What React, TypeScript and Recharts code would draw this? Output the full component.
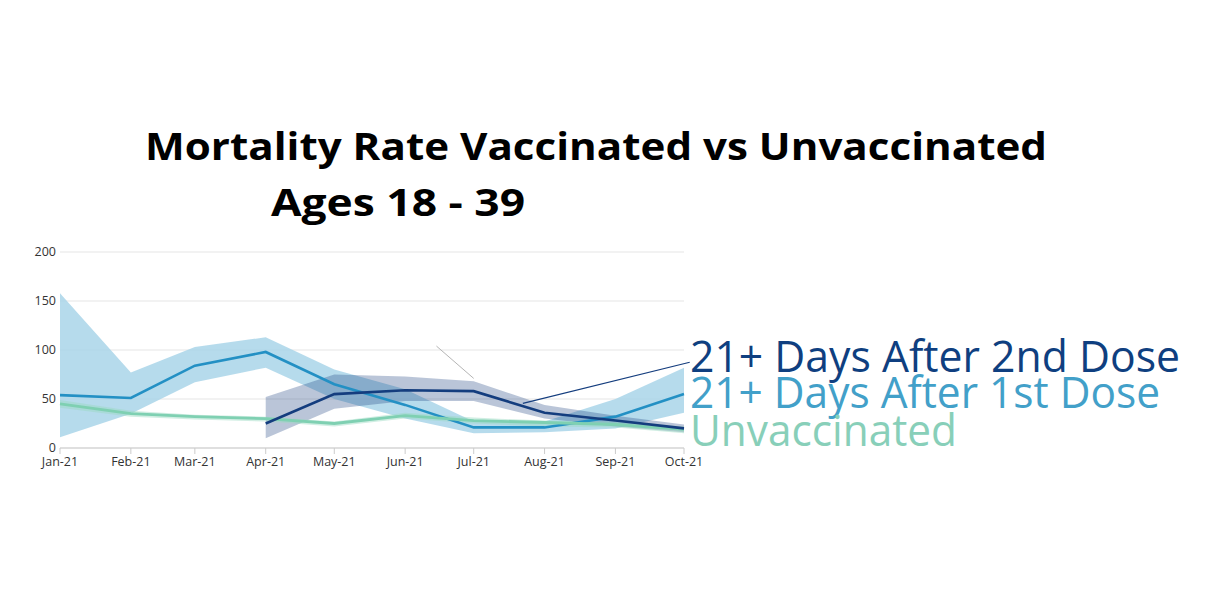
import {
  Area,
  CartesianGrid,
  ComposedChart,
  Line,
  ReferenceLine,
  XAxis,
  YAxis,
} from 'recharts';

// day-of-year for the first of each month (2021)
const MONTH_DAYS = [0, 31, 59, 90, 120, 151, 181, 212, 243, 273];
const MONTH_LABELS = ['Jan-21', 'Feb-21', 'Mar-21', 'Apr-21', 'May-21', 'Jun-21', 'Jul-21', 'Aug-21', 'Sep-21', 'Oct-21'];

// 21+ days after 1st dose
const DOSE1 = [54, 51, 84, 98, 65, 44, 21, 21, 32, 55];
const DOSE1_LO = [11, 35, 67, 82, 50, 30, 15, 16, 20, 36];
const DOSE1_HI = [158, 77, 103, 113, 80, 60, 27, 27, 50, 82];

// 21+ days after 2nd dose
const DOSE2 = [null, null, null, 25, 55, 59, 58, 36, 28, 20];
const DOSE2_LO = [null, null, null, 10, 40, 48, 48, 30, 22, 16];
const DOSE2_HI = [null, null, null, 52, 75, 73, 68, 44, 33, 24];

// unvaccinated
const UNVAX = [45, 35, 32, 30, 25, 33, 28, 26, 24, 19];
const UNVAX_LO = [41, 32, 29, 27, 22, 30, 25, 22, 21, 15];
const UNVAX_HI = [49, 38, 34, 32, 27, 36, 31, 28, 27, 22];

const Y_TICKS = [0, 50, 100, 150, 200];

const COLORS = {
  dose1: '#2390c4',
  dose1Band: '#a9d5e9',
  dose2: '#143d7e',
  dose2Band: '#1a3f7f',
  unvax: '#7fd0b2',
  unvaxBand: '#9ad9c2',
  grid: '#e6e6e6',
  axis: '#cccccc',
  tick: '#333333',
};

const data = MONTH_DAYS.map((day, i) => ({
  day,
  dose1: DOSE1[i],
  dose1Band: [DOSE1_LO[i], DOSE1_HI[i]],
  dose2: DOSE2[i],
  dose2Band: DOSE2_LO[i] == null ? null : [DOSE2_LO[i], DOSE2_HI[i]],
  unvax: UNVAX[i],
  unvaxBand: [UNVAX_LO[i], UNVAX_HI[i]],
}));

const labelFor = (v: number) => MONTH_LABELS[MONTH_DAYS.indexOf(v)] ?? '';

export default function App() {
  const font = "'Open Sans', sans-serif";
  return (
    <div style={{ position: 'absolute', left: 0, top: 0, width: 1224, height: 601, background: '#fff', fontFamily: font }}>
      <ComposedChart
        width={1224}
        height={601}
        data={data}
        margin={{ top: 252, right: 540, bottom: 123, left: 20 }}
      >
        <CartesianGrid vertical={false} stroke={COLORS.grid} strokeWidth={1.2} />
        <XAxis
          dataKey="day"
          type="number"
          domain={[0, 273]}
          ticks={MONTH_DAYS}
          tickFormatter={labelFor}
          interval={0}
          height={30}
          stroke={COLORS.axis}
          tickSize={6}
          tickMargin={3}
          tick={{ fill: COLORS.tick, fontSize: 12.5, fontFamily: font }}
        />
        <YAxis
          domain={[0, 200]}
          ticks={Y_TICKS}
          width={40}
          axisLine={false}
          tickLine={false}
          tickSize={0}
          tickMargin={4}
          tick={{ fill: COLORS.tick, fontSize: 12.5, fontFamily: font }}
        />
        <Area dataKey="dose1Band" stroke="none" fill={COLORS.dose1Band} fillOpacity={0.85} isAnimationActive={false} />
        <Line dataKey="dose1" stroke={COLORS.dose1} strokeWidth={2.6} dot={false} isAnimationActive={false} />
        <Area dataKey="dose2Band" stroke="none" fill={COLORS.dose2Band} fillOpacity={0.3} isAnimationActive={false} />
        <Area dataKey="unvaxBand" stroke="none" fill={COLORS.unvaxBand} fillOpacity={0.45} isAnimationActive={false} />
        <Line dataKey="unvax" stroke={COLORS.unvax} strokeWidth={2.8} dot={false} isAnimationActive={false} />
        <Line dataKey="dose2" stroke={COLORS.dose2} strokeWidth={2.6} dot={false} isAnimationActive={false} />
        <ReferenceLine
          segment={[{ x: 164.7, y: 104 }, { x: 181, y: 71 }]}
          stroke="#b5b5b5"
          strokeWidth={1}
          ifOverflow="visible"
        />
        <ReferenceLine
          segment={[{ x: 202.5, y: 45.5 }, { x: 275.5, y: 87.5 }]}
          stroke={COLORS.dose2}
          strokeWidth={1.2}
          ifOverflow="visible"
        />
      </ComposedChart>
      <svg width={1224} height={601} style={{ position: 'absolute', left: 0, top: 0, pointerEvents: 'none' }}>
        <text x={145} y={160} fontSize={38} fontWeight={700} fill="#000" textLength={902} lengthAdjust="spacingAndGlyphs" fontFamily={font}>
          Mortality Rate Vaccinated vs Unvaccinated
        </text>
        <text x={271} y={216} fontSize={37} fontWeight={700} fill="#000" textLength={254} lengthAdjust="spacingAndGlyphs" fontFamily={font}>
          Ages 18 - 39
        </text>
        <text x={690} y={372} fontSize={43} fill="#0f3f80" textLength={490} lengthAdjust="spacingAndGlyphs" fontFamily={font}>
          21+ Days After 2nd Dose
        </text>
        <text x={690} y={408} fontSize={43} fill="#42a0c9" textLength={470} lengthAdjust="spacingAndGlyphs" fontFamily={font}>
          21+ Days After 1st Dose
        </text>
        <text x={690} y={446} fontSize={43} fill="#88cfb9" textLength={267} lengthAdjust="spacingAndGlyphs" fontFamily={font}>
          Unvaccinated
        </text>
      </svg>
    </div>
  );
}
